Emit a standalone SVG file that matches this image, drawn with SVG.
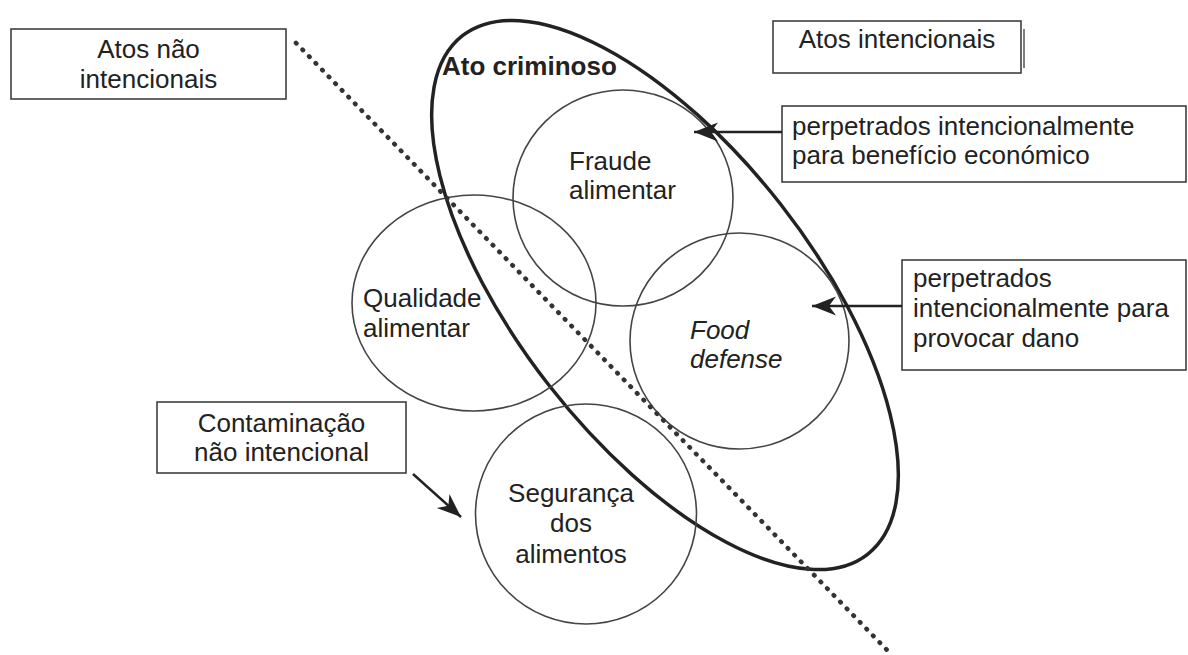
<svg xmlns="http://www.w3.org/2000/svg" width="1188" height="655" viewBox="0 0 1188 655">
<defs>
<style>
.box{fill:#fff;stroke:#333;stroke-width:1.5}
.circ{fill:none;stroke:#444;stroke-width:1.6}
.t{font-family:"Liberation Sans",Arial,sans-serif;font-size:26px;fill:#222}
.c{text-anchor:middle}
.conn{stroke:#222;stroke-width:2.5;fill:none}
</style>
<marker id="ah" markerUnits="userSpaceOnUse" markerWidth="30" markerHeight="24" refX="0" refY="0" viewBox="-26 -12 30 24" orient="auto">
<path d="M0,0 L-24,-9.5 L-17,0 L-24,9.5 Z" fill="#222"/>
</marker>
</defs>
<rect width="1188" height="655" fill="#fff"/>

<g id="criminal-ellipse">
<ellipse cx="665" cy="295" rx="329" ry="147" transform="rotate(52 665 295)" fill="none" stroke="#222" stroke-width="3.5"/>
<text class="t" x="442" y="75" font-weight="bold">Ato criminoso</text>
</g>

<g id="fraude">
<ellipse class="circ" cx="623" cy="198" rx="110" ry="108"/>
<text class="t" x="569" y="170">Fraude</text>
<text class="t" x="569" y="199">alimentar</text>
</g>
<g id="qualidade">
<ellipse class="circ" cx="474" cy="303" rx="122" ry="108"/>
<text class="t" x="363" y="307">Qualidade</text>
<text class="t" x="363" y="337">alimentar</text>
</g>
<g id="food-defense">
<ellipse class="circ" cx="739.5" cy="341" rx="109.5" ry="108"/>
<text class="t" x="690" y="339" font-style="italic">Food</text>
<text class="t" x="690" y="368" font-style="italic">defense</text>
</g>
<g id="seguranca">
<ellipse class="circ" cx="586" cy="514" rx="110.5" ry="110"/>
<text class="t c" x="571" y="502">Segurança</text>
<text class="t c" x="571" y="532">dos</text>
<text class="t c" x="571" y="563">alimentos</text>
</g>

<g id="divider">
<line x1="296" y1="43" x2="889" y2="652" stroke="#333" stroke-width="4.6" stroke-linecap="round" stroke-dasharray="0.6 8.8"/>
</g>

<g id="box-nao-intencionais">
<rect class="box" x="11" y="29" width="275" height="70"/>
<text class="t c" x="148.5" y="58">Atos não</text>
<text class="t c" x="148.5" y="88">intencionais</text>
</g>
<g id="box-intencionais">
<rect class="box" x="773" y="21" width="248" height="52"/>
<line x1="1024" y1="29" x2="1024" y2="68" stroke="#555" stroke-width="1.5"/>
<text class="t c" x="897" y="48">Atos intencionais</text>
</g>
<g id="box-economico">
<rect class="box" x="782" y="106" width="404" height="76"/>
<text class="t" x="792" y="135">perpetrados intencionalmente</text>
<text class="t" x="792" y="164">para benefício económico</text>
</g>
<g id="box-dano">
<rect class="box" x="902" y="260" width="284" height="110"/>
<text class="t" x="913" y="287">perpetrados</text>
<text class="t" x="913" y="317">intencionalmente para</text>
<text class="t" x="913" y="347">provocar dano</text>
</g>
<g id="box-contaminacao">
<rect class="box" x="157" y="402" width="249" height="71"/>
<text class="t c" x="281.5" y="432">Contaminação</text>
<text class="t c" x="281.5" y="461">não intencional</text>
</g>

<g id="connectors">
<line class="conn" x1="782" y1="132" x2="694" y2="132" marker-end="url(#ah)"/>
<line class="conn" x1="902" y1="306" x2="812" y2="306" marker-end="url(#ah)"/>
<line class="conn" x1="413" y1="474" x2="461" y2="517" marker-end="url(#ah)"/>
</g>
</svg>
